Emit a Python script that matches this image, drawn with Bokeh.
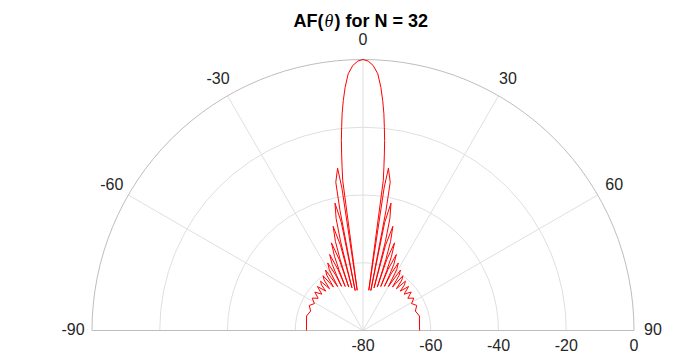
import numpy as np
from bokeh.plotting import figure
from bokeh.models import Range1d
from bokeh.core.properties import value
from bokeh.embed import file_html
from bokeh.resources import INLINE

# ---------------- data ----------------
# right half of the pattern: angle in degrees (0 = broadside, top), AF in dB
theta_right = [0, 1.1, 2.2, 3.3, 4.2, 4.9, 5.5, 6.0, 6.5, 6.9, 7.3, 7.7,
               8.2, 8.42, 8.9, 10.4, 10.85,
               11.1, 11.35, 12.4, 13.5, 14.15,
               14.5, 14.8, 16.0, 17.2, 17.85,
               18.2, 18.5, 19.8, 21.0, 21.65,
               22.0, 22.3, 23.7, 25.0, 25.55,
               25.9, 26.3, 27.6, 29.0,
               30.0, 31.8, 33.2,
               34.2, 36.1, 37.6,
               38.7, 40.7, 42.3,
               43.4, 46.0, 48.6, 51.4, 54.3, 57.5, 61.0, 65.0, 69.6, 75.6, 90.0]
af_db_right = [0, -0.45, -1.7, -4.1, -8.0, -11.9, -15.7, -19.7, -23.6, -27.5, -31.4, -35.3,
               -68, -37.5, -31.5, -35.5, -44,
               -68, -47.5, -41.5, -46, -53,
               -67, -54, -48, -52.5, -58,
               -66.5, -58, -52.5, -56.5, -61,
               -66, -60.5, -55.5, -58.5, -62,
               -65.5, -61.5, -57.5, -59.5,
               -65, -59, -60.5,
               -64.5, -60, -61.2,
               -64.2, -60.8, -61.8,
               -64, -61.3, -63.8, -61.8, -63.7, -62.2, -63.6, -62.5, -63.5, -62.8, -63.3]

theta_ticks = [-90, -60, -30, 0, 30, 60, 90]
r_ticks = [-80, -60, -40, -20, 0]
title_parts = ["AF(", "\u03b8", ") for N = 32"]

# ---------------- layout ----------------
W, H = 678, 353
CX, CY = 362.5, 330.0          # pixel position of the polar origin
RMIN, RMAX = r_ticks[0], r_ticks[-1]
S = 271.0 / (RMAX - RMIN)      # pixels per dB

p = figure(width=W, height=H, output_backend="svg", toolbar_location=None,
           x_range=Range1d(-CX / S, (W - CX) / S),
           y_range=Range1d(-(H - CY) / S, CY / S),
           x_axis_type=None, y_axis_type=None, min_border=0)
p.grid.visible = False
p.outline_line_color = None
p.background_fill_color = "white"
p.border_fill_color = "white"

def pol(theta_deg, rr):
    t = np.radians(np.asarray(theta_deg, dtype=float))
    r = np.asarray(rr, dtype=float)
    return r * np.sin(t), r * np.cos(t)

grid_c = "#dfdfdf"
edge_c = "#bdbdbd"
txt_c = "#262626"
R = RMAX - RMIN

# rings
inner = [v - RMIN for v in r_ticks[1:-1]]
p.arc(x=0, y=0, radius=inner, start_angle=0, end_angle=np.pi,
      line_color=grid_c, line_width=1)
# spokes
spokes = theta_ticks[1:-1]
sx, sy = pol(spokes, [R] * len(spokes))
p.segment(x0=[0] * len(spokes), y0=[0] * len(spokes), x1=sx, y1=sy,
          line_color=grid_c, line_width=1)
# outer edge
p.arc(x=0, y=0, radius=R, start_angle=0, end_angle=np.pi,
      line_color=edge_c, line_width=1)
p.segment(x0=[-R], y0=[0], x1=[R], y1=[0], line_color=edge_c, line_width=1)

# curve (mirror of the right half)
theta_full = [-t for t in theta_right[::-1]] + theta_right[1:]
db_full = af_db_right[::-1] + af_db_right[1:]
rr = np.clip(np.array(db_full, dtype=float), RMIN, RMAX) - RMIN
cx, cy = pol(theta_full, rr)
p.line(cx, cy, line_color="#ff0000", line_width=1)

# angle labels
lab_r = 290.0 / S
lx, ly = pol(theta_ticks, [lab_r] * len(theta_ticks))
ly = ly + 1.5 / S
p.text(x=lx, y=ly, text=[str(t) for t in theta_ticks],
       text_font=value("Liberation Sans"), text_font_size="16px",
       text_color=txt_c, text_align="center", text_baseline="middle")

# radius labels
rx = [v - RMIN for v in r_ticks]
p.text(x=rx, y=[-14.0 / S] * len(rx), text=[str(v) for v in r_ticks],
       text_font=value("Liberation Sans"), text_font_size="16px",
       text_color=txt_c, text_align="center", text_baseline="middle")

# title
ty = (CY - 20) / S
p.text(x=[(323 - CX) / S], y=[ty], text=[title_parts[0]],
       text_font=value("Liberation Sans"), text_font_size="18px", text_font_style="bold",
       text_color="black", text_align="right", text_baseline="middle")
p.text(x=[(328.5 - CX) / S], y=[ty], text=[title_parts[1]],
       text_font=value("Liberation Serif"), text_font_size="18px", text_font_style="italic",
       text_color="black", text_align="center", text_baseline="middle")
p.text(x=[(334 - CX) / S], y=[ty], text=[title_parts[2]],
       text_font=value("Liberation Sans"), text_font_size="18px", text_font_style="bold",
       text_color="black", text_align="left", text_baseline="middle")

open("out.html", "w").write(file_html(p, INLINE))
